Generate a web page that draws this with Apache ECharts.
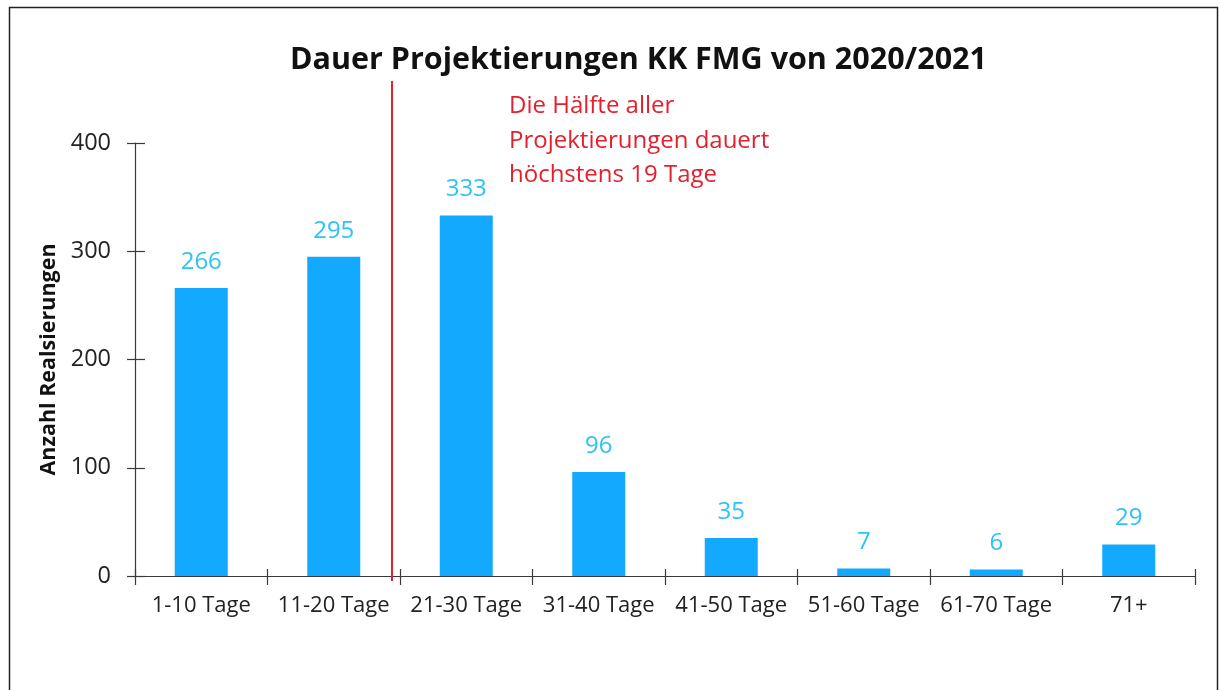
<!DOCTYPE html>
<html>
<head>
<meta charset="utf-8">
<script src="https://cdn.jsdelivr.net/npm/echarts@6/dist/echarts.min.js"></script>
<style>
  html, body { margin: 0; padding: 0; background: #fff; }
  #chart { width: 1219px; height: 690px; }
</style>
</head>
<body>
<div id="chart"></div>
<script>
// data
const categories = ['1-10 Tage', '11-20 Tage', '21-30 Tage', '31-40 Tage', '41-50 Tage', '51-60 Tage', '61-70 Tage', '71+'];
const counts = [266, 295, 333, 96, 35, 7, 6, 29];
const yTicks = [0, 100, 200, 300, 400];
const medianDays = 19.4; // position of the red line, in days (10 days per category)
const noteLines = ['Die Hälfte aller', 'Projektierungen dauert', 'höchstens 19 Tage'];

const font = '"Open Sans", sans-serif';
const axisColor = '#3a3a3a';

const chart = echarts.init(document.getElementById('chart'));

chart.setOption({
  animation: false,
  textStyle: { fontFamily: font },
  title: [
    {
      text: 'Dauer Projektierungen KK FMG von 2020/2021',
      left: 290,
      top: 45,
      padding: 0,
      textStyle: { fontSize: 30.5, fontWeight: 'bold', color: '#111', fontFamily: font }
    },
    {
      text: noteLines.join('\n'),
      left: 509,
      top: 89,
      padding: 0,
      textStyle: { fontSize: 24, fontWeight: 'normal', color: '#e3202e', lineHeight: 34.5, fontFamily: font }
    }
  ],
  graphic: [{
    type: 'rect',
    shape: { x: 9.5, y: 7.5, width: 1208, height: 700 },
    style: { fill: 'none', stroke: '#222', lineWidth: 1.5 },
    silent: true
  }],
  grid: { left: 135, right: 24, top: 143, bottom: 114 },
  xAxis: [
    {
      type: 'category',
      data: categories,
      axisLine: { lineStyle: { color: axisColor, width: 1.2 } },
      axisTick: { show: true, length: 9, lineStyle: { color: axisColor, width: 1.2 } },
      axisLabel: { fontSize: 22, color: '#222', margin: 19, interval: 0 }
    },
    {
      type: 'category',
      data: categories,
      position: 'bottom',
      axisLine: { show: false },
      axisTick: { show: true, inside: true, length: 7, lineStyle: { color: axisColor, width: 1.2 } },
      axisLabel: { show: false }
    },
    {
      type: 'value',
      min: 0,
      max: categories.length * 10,
      show: false
    }
  ],
  yAxis: [
    {
      type: 'value',
      min: yTicks[0],
      max: yTicks[yTicks.length - 1],
      interval: 100,
      name: 'Anzahl Realsierungen',
      nameLocation: 'middle',
      nameGap: 68,
      nameTextStyle: { fontSize: 21.5, fontWeight: 'bold', color: '#111' },
      axisLine: { show: true, lineStyle: { color: axisColor, width: 1.2 } },
      axisTick: { show: true, length: 8, lineStyle: { color: axisColor, width: 1.2 } },
      axisLabel: { fontSize: 23.5, color: '#222', margin: 24 },
      splitLine: { show: false }
    },
    {
      type: 'value',
      min: yTicks[0],
      max: yTicks[yTicks.length - 1],
      interval: 100,
      position: 'left',
      axisLine: { show: false },
      axisTick: { show: true, inside: true, length: 10, lineStyle: { color: axisColor, width: 1.2 } },
      axisLabel: { show: false },
      splitLine: { show: false }
    }
  ],
  series: [
    {
      type: 'bar',
      data: counts,
      barWidth: '40%',
      itemStyle: { color: '#13a9fe' },
      label: {
        show: true,
        position: 'top',
        distance: 14,
        fontSize: 24,
        color: '#2cc3f7'
      }
    },
    {
      type: 'scatter',
      xAxisIndex: 2,
      yAxisIndex: 0,
      data: [[medianDays, 0]],
      symbolSize: 0,
      silent: true,
      markLine: {
        silent: true,
        symbol: 'none',
        label: { show: false },
        lineStyle: { color: '#e3202e', width: 2, type: 'solid' },
        data: [[
          { coord: [medianDays, 0], y: 581 },
          { coord: [medianDays, yTicks[yTicks.length - 1]], y: 81 }
        ]]
      }
    }
  ]
});

window.onresize = function () {
  chart.resize();
};
</script>
</body>
</html>
